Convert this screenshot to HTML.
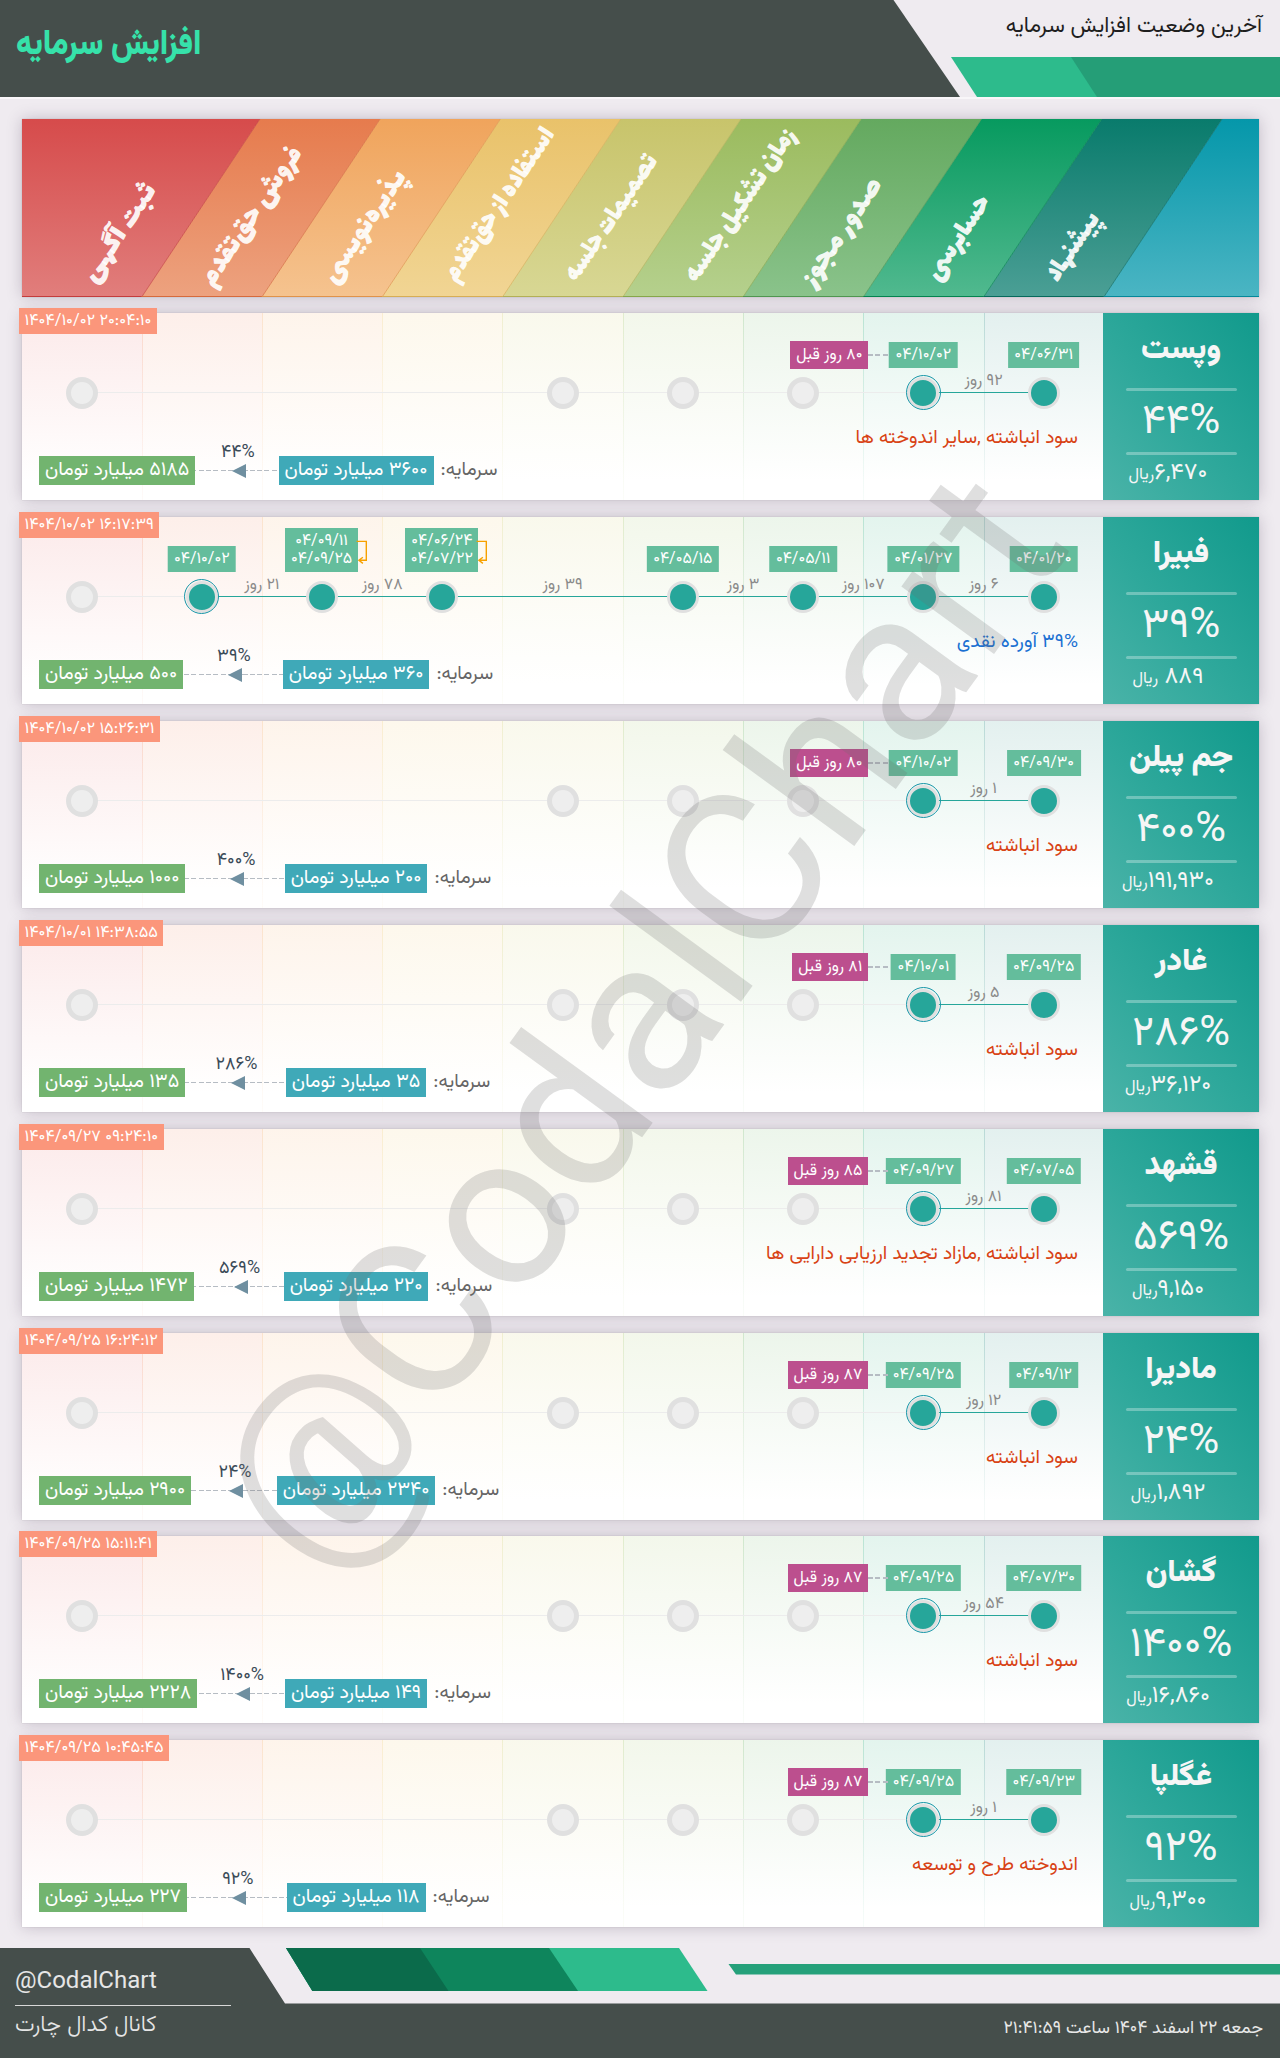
<!DOCTYPE html>
<html lang="fa"><head><meta charset="utf-8"><title>افزایش سرمایه</title>
<style>
*{margin:0;padding:0;box-sizing:border-box}
html,body{width:1280px;height:2058px;overflow:hidden}
body{position:relative;background:#efebf0;font-family:"Vazirmatn","DejaVu Sans",sans-serif;color:#333}
.ab{position:absolute}
.rtl{direction:rtl;unicode-bidi:plaintext}
.nw{white-space:nowrap}
.box{position:absolute;left:22px;width:1237px;background:#fff;box-shadow:0 0 1px rgba(0,0,0,.22),0 0 14px rgba(70,50,80,.26)}
.col{position:absolute;top:0;height:187px}
.hl{position:absolute;height:1px;background:#ececec}
.gc{position:absolute;width:32px;height:32px;border-radius:50%;background:#eeeeee;border:5.5px solid #e0e0e0}
.tc{position:absolute;width:32px;height:32px;border-radius:50%;background:#26a69a;border:3.8px solid #e0e0e0}
.cc{position:absolute;width:35px;height:35px;border-radius:50%;border:1.8px solid #1896a8}
.lbl{position:absolute;color:#fff;text-align:center;white-space:nowrap;direction:rtl}
.dl{background:#64bd9c;font-size:16px;line-height:27.6px;height:26px}
.ts{background:#fb967b;font-size:16.3px;line-height:26px;height:26px;padding:0 5.5px;direction:ltr!important}
.ago{background:#bc4f8e;font-size:16px;line-height:28px;height:28px}
.bl{font-size:19.5px;line-height:29px;height:29px;padding:0 6px}
.days{position:absolute;color:#8a8a8a;font-size:16px;white-space:nowrap;direction:rtl;text-align:center}
.rp{position:absolute;left:1103px;width:156px;height:187px;background:linear-gradient(to top right,#4ab3a8 0%,#2ea89b 45%,#119a8c 100%);color:#f6f6f6}
.dash{height:1.4px;background:repeating-linear-gradient(to right,#b6bcc3 0 5px,transparent 5px 7.3px)}
.sep{position:absolute;left:23px;width:111px;height:3px;border-radius:2px;background:rgba(255,255,255,.3)}
</style></head><body>

<svg class="ab" style="left:0;top:0" width="1280" height="100" viewBox="0 0 1280 100">
<polygon points="0,0 893.5,0 960,97 0,97" fill="#454e4b"/>
<polygon points="951,57 1280,57 1280,97 977,97" fill="#2dbb8c"/>
<polygon points="1071,57 1280,57 1280,97 1097,97" fill="#259e77"/>
</svg>
<div class="ab" style="left:0;top:97px;width:1280px;height:1.5px;background:#f9f6f9"></div>
<div class="ab rtl nw" style="left:16px;top:21px;font-size:35px;font-weight:900;color:#36e2aa;line-height:50px;transform-origin:0 50%;transform:scaleX(.885)">افزایش سرمایه</div>
<div class="ab rtl nw" style="right:18px;top:10px;font-size:21.7px;color:#1e1e1e;line-height:34px">آخرین وضعیت افزایش سرمایه</div>

<div class="box" style="top:119px;height:178px;overflow:hidden;background:none"></div>
<svg class="ab" style="left:22px;top:119px" width="1237" height="178" viewBox="22 119 1237 178"><defs><linearGradient id="g0" x1="0" y1="0" x2="0" y2="1"><stop offset="0" stop-color="#d64b4b"/><stop offset="1" stop-color="#e17e7c"/></linearGradient><linearGradient id="g1" x1="0" y1="0" x2="0" y2="1"><stop offset="0" stop-color="#e67b4d"/><stop offset="1" stop-color="#eda27f"/></linearGradient><linearGradient id="g2" x1="0" y1="0" x2="0" y2="1"><stop offset="0" stop-color="#f0a45c"/><stop offset="1" stop-color="#f5c38f"/></linearGradient><linearGradient id="g3" x1="0" y1="0" x2="0" y2="1"><stop offset="0" stop-color="#e9c26a"/><stop offset="1" stop-color="#f1d594"/></linearGradient><linearGradient id="g4" x1="0" y1="0" x2="0" y2="1"><stop offset="0" stop-color="#c8c46b"/><stop offset="1" stop-color="#d8d794"/></linearGradient><linearGradient id="g5" x1="0" y1="0" x2="0" y2="1"><stop offset="0" stop-color="#9bbb5e"/><stop offset="1" stop-color="#b5d08d"/></linearGradient><linearGradient id="g6" x1="0" y1="0" x2="0" y2="1"><stop offset="0" stop-color="#64a95f"/><stop offset="1" stop-color="#8ac38b"/></linearGradient><linearGradient id="g7" x1="0" y1="0" x2="0" y2="1"><stop offset="0" stop-color="#079a5f"/><stop offset="1" stop-color="#51b98f"/></linearGradient><linearGradient id="g8" x1="0" y1="0" x2="0" y2="1"><stop offset="0" stop-color="#097b6c"/><stop offset="1" stop-color="#4b9f95"/></linearGradient><linearGradient id="g9" x1="0" y1="0" x2="0" y2="1"><stop offset="0" stop-color="#0597aa"/><stop offset="1" stop-color="#4bb5c3"/></linearGradient></defs><polygon points="22.0,119.0 259.9,119.0 141.7,297.0 22.0,297.0" fill="url(#g0)"/><polygon points="259.9,119.0 380.1,119.0 261.9,297.0 141.7,297.0" fill="url(#g1)"/><polygon points="380.1,119.0 500.4,119.0 382.2,297.0 261.9,297.0" fill="url(#g2)"/><polygon points="500.4,119.0 620.7,119.0 502.5,297.0 382.2,297.0" fill="url(#g3)"/><polygon points="620.7,119.0 741.0,119.0 622.8,297.0 502.5,297.0" fill="url(#g4)"/><polygon points="741.0,119.0 861.2,119.0 743.0,297.0 622.8,297.0" fill="url(#g5)"/><polygon points="861.2,119.0 981.5,119.0 863.3,297.0 743.0,297.0" fill="url(#g6)"/><polygon points="981.5,119.0 1101.8,119.0 983.6,297.0 863.3,297.0" fill="url(#g7)"/><polygon points="1101.8,119.0 1222.0,119.0 1103.8,297.0 983.6,297.0" fill="url(#g8)"/><polygon points="1222.0,119.0 1259.0,119.0 1259.0,297.0 1103.8,297.0" fill="url(#g9)"/><line x1="259.9" y1="119" x2="141.7" y2="297" stroke="#c43c3c" stroke-width="1" stroke-opacity=".7"/><line x1="380.1" y1="119" x2="261.9" y2="297" stroke="#d66a3c" stroke-width="1" stroke-opacity=".7"/><line x1="500.4" y1="119" x2="382.2" y2="297" stroke="#e0934a" stroke-width="1" stroke-opacity=".7"/><line x1="620.7" y1="119" x2="502.5" y2="297" stroke="#d7ae55" stroke-width="1" stroke-opacity=".7"/><line x1="741.0" y1="119" x2="622.8" y2="297" stroke="#b3b056" stroke-width="1" stroke-opacity=".7"/><line x1="861.2" y1="119" x2="743.0" y2="297" stroke="#86a74a" stroke-width="1" stroke-opacity=".7"/><line x1="981.5" y1="119" x2="863.3" y2="297" stroke="#4f9650" stroke-width="1" stroke-opacity=".7"/><line x1="1101.8" y1="119" x2="983.6" y2="297" stroke="#02844f" stroke-width="1" stroke-opacity=".7"/><line x1="1222.0" y1="119" x2="1103.8" y2="297" stroke="#056a5c" stroke-width="1" stroke-opacity=".7"/><line x1="22.0" y1="296.5" x2="141.7" y2="296.5" stroke="#c43c3c" stroke-width="1"/><line x1="141.7" y1="296.5" x2="261.9" y2="296.5" stroke="#d66a3c" stroke-width="1"/><line x1="261.9" y1="296.5" x2="382.2" y2="296.5" stroke="#e0934a" stroke-width="1"/><line x1="382.2" y1="296.5" x2="502.5" y2="296.5" stroke="#d7ae55" stroke-width="1"/><line x1="502.5" y1="296.5" x2="622.8" y2="296.5" stroke="#b3b056" stroke-width="1"/><line x1="622.8" y1="296.5" x2="743.0" y2="296.5" stroke="#86a74a" stroke-width="1"/><line x1="743.0" y1="296.5" x2="863.3" y2="296.5" stroke="#4f9650" stroke-width="1"/><line x1="863.3" y1="296.5" x2="983.6" y2="296.5" stroke="#02844f" stroke-width="1"/><line x1="983.6" y1="296.5" x2="1103.8" y2="296.5" stroke="#056a5c" stroke-width="1"/><line x1="1103.8" y1="296.5" x2="1259.0" y2="296.5" stroke="#04889a" stroke-width="1"/></svg>
<div class="ab" style="left:22px;top:119px;width:1237px;height:178px;overflow:hidden">
<div class="ab rtl nw" style="left:81.3px;top:136.9px;height:34px;line-height:34px;font-family:Lalezar,'Vazirmatn','DejaVu Sans',sans-serif;font-size:31px;color:rgba(255,255,255,.93);transform-origin:0 100%;transform:rotate(-56deg) scaleX(1.1)">ثبت آگهی</div>
<div class="ab rtl nw" style="left:199.1px;top:140.6px;height:34px;line-height:34px;font-family:Lalezar,'Vazirmatn','DejaVu Sans',sans-serif;font-size:31px;color:rgba(255,255,255,.93);transform-origin:0 100%;transform:rotate(-56deg) scaleX(1.015)">فروش حق‌تقدم</div>
<div class="ab rtl nw" style="left:321.1px;top:138.0px;height:34px;line-height:34px;font-family:Lalezar,'Vazirmatn','DejaVu Sans',sans-serif;font-size:31px;color:rgba(255,255,255,.93);transform-origin:0 100%;transform:rotate(-56deg) scaleX(1.026)">پذیره‌نویسی</div>
<div class="ab rtl nw" style="left:442.4px;top:136.4px;height:34px;line-height:34px;font-family:Lalezar,'Vazirmatn','DejaVu Sans',sans-serif;font-size:31px;color:rgba(255,255,255,.93);transform-origin:0 100%;transform:rotate(-56deg) scaleX(0.88)">استفاده از حق‌تقدم</div>
<div class="ab rtl nw" style="left:562.9px;top:136.0px;height:34px;line-height:34px;font-family:Lalezar,'Vazirmatn','DejaVu Sans',sans-serif;font-size:31px;color:rgba(255,255,255,.93);transform-origin:0 100%;transform:rotate(-56deg) scaleX(0.85)">تصمیمات جلسه</div>
<div class="ab rtl nw" style="left:682.5px;top:137.0px;height:34px;line-height:34px;font-family:Lalezar,'Vazirmatn','DejaVu Sans',sans-serif;font-size:31px;color:rgba(255,255,255,.93);transform-origin:0 100%;transform:rotate(-56deg) scaleX(0.9)">زمان تشکیل جلسه</div>
<div class="ab rtl nw" style="left:800.4px;top:140.7px;height:34px;line-height:34px;font-family:Lalezar,'Vazirmatn','DejaVu Sans',sans-serif;font-size:31px;color:rgba(255,255,255,.93);transform-origin:0 100%;transform:rotate(-56deg) scaleX(1.067)">صدور مجوز</div>
<div class="ab rtl nw" style="left:924.3px;top:135.2px;height:34px;line-height:34px;font-family:Lalezar,'Vazirmatn','DejaVu Sans',sans-serif;font-size:31px;color:rgba(255,255,255,.93);transform-origin:0 100%;transform:rotate(-56deg) scaleX(0.94)">حسابرسی</div>
<div class="ab rtl nw" style="left:1044.0px;top:136.0px;height:34px;line-height:34px;font-family:Lalezar,'Vazirmatn','DejaVu Sans',sans-serif;font-size:31px;color:rgba(255,255,255,.93);transform-origin:0 100%;transform:rotate(-56deg) scaleX(0.885)">پیشنهاد</div>
</div>
<div class="box" style="top:313px;height:187px">
<div class="col" style="left:0px;width:120px;background:linear-gradient(to bottom,rgba(230,90,90,.13),rgba(230,90,90,0) 90%)"></div>
<div class="col" style="left:120px;width:120px;background:linear-gradient(to bottom,rgba(240,130,90,.13),rgba(240,130,90,0) 90%)"></div>
<div class="col" style="left:120px;width:1px;background:linear-gradient(to bottom,rgba(240,130,90,.22),rgba(240,130,90,.04))"></div>
<div class="col" style="left:240px;width:120px;background:linear-gradient(to bottom,rgba(245,170,100,.13),rgba(245,170,100,0) 90%)"></div>
<div class="col" style="left:240px;width:1px;background:linear-gradient(to bottom,rgba(245,170,100,.22),rgba(245,170,100,.04))"></div>
<div class="col" style="left:360px;width:120px;background:linear-gradient(to bottom,rgba(240,200,110,.13),rgba(240,200,110,0) 90%)"></div>
<div class="col" style="left:360px;width:1px;background:linear-gradient(to bottom,rgba(240,200,110,.22),rgba(240,200,110,.04))"></div>
<div class="col" style="left:480px;width:121px;background:linear-gradient(to bottom,rgba(210,205,110,.13),rgba(210,205,110,0) 90%)"></div>
<div class="col" style="left:480px;width:1px;background:linear-gradient(to bottom,rgba(210,205,110,.22),rgba(210,205,110,.04))"></div>
<div class="col" style="left:601px;width:120px;background:linear-gradient(to bottom,rgba(160,195,100,.13),rgba(160,195,100,0) 90%)"></div>
<div class="col" style="left:601px;width:1px;background:linear-gradient(to bottom,rgba(160,195,100,.22),rgba(160,195,100,.04))"></div>
<div class="col" style="left:721px;width:120px;background:linear-gradient(to bottom,rgba(110,180,100,.13),rgba(110,180,100,0) 90%)"></div>
<div class="col" style="left:721px;width:1px;background:linear-gradient(to bottom,rgba(110,180,100,.22),rgba(110,180,100,.04))"></div>
<div class="col" style="left:841px;width:121px;background:linear-gradient(to bottom,rgba(40,170,120,.13),rgba(40,170,120,0) 90%)"></div>
<div class="col" style="left:841px;width:1px;background:linear-gradient(to bottom,rgba(40,170,120,.22),rgba(40,170,120,.04))"></div>
<div class="col" style="left:962px;width:119px;background:linear-gradient(to bottom,rgba(40,140,130,.13),rgba(40,140,130,0) 90%)"></div>
<div class="col" style="left:962px;width:1px;background:linear-gradient(to bottom,rgba(40,140,130,.22),rgba(40,140,130,.04))"></div>
<div class="hl" style="left:59.5px;width:962.2px;top:79px"></div>
<div class="ab" style="left:901.4px;width:120.3px;top:78.7px;height:1.7px;background:#26a69a"></div>
<div class="gc" style="left:43.5px;top:63.5px"></div>
<div class="gc" style="left:524.6px;top:63.5px"></div>
<div class="gc" style="left:644.9px;top:63.5px"></div>
<div class="gc" style="left:765.2px;top:63.5px"></div>
<div class="tc" style="left:1005.7px;top:63.5px"></div>
<div class="tc" style="left:885.4px;top:63.5px"></div>
<div class="cc" style="left:883.9px;top:62.0px"></div>
<div class="lbl dl" style="left:1021.7px;transform:translateX(-50%);padding:0 6.5px;top:29px">۰۴/۰۶/۳۱</div>
<div class="lbl dl" style="left:901.4px;transform:translateX(-50%);padding:0 6.5px;top:29px">۰۴/۱۰/۰۲</div>
<div class="days" style="left:921.6px;width:80px;top:59px;line-height:20px">۹۲ روز</div>
<div class="ab dash" style="left:846.4px;width:21px;top:41.3px"></div>
<div class="lbl ago" style="right:390.6px;padding:0 6px;top:28px;line-height:29px">۸۰ روز قبل</div>
<div class="ab rtl nw" style="right:181.0px;top:110.5px;font-size:19.2px;line-height:28px;color:#d84315">سود انباشته ,سایر اندوخته ها</div>
<div class="ab dash" style="left:38px;width:240px;top:157px"></div>
<div class="ab" style="left:209.9px;top:151px;width:0;height:0;border-top:7px solid transparent;border-bottom:7px solid transparent;border-right:14px solid #6f8fa0"></div>
<div class="ab nw" style="left:175.9px;width:80px;text-align:center;top:126px;font-size:18px;line-height:28px;color:#3a4a57;direction:ltr">۴۴%</div>
<div class="ab nw" style="left:17px;top:143px"><span class="bl" style="background:#72b46f;color:#fff;display:inline-block;direction:rtl">۵۱۸۵ میلیارد تومان</span></div>
<div class="ab nw" style="left:216px;width:300px;top:143px;display:flex;justify-content:center;align-items:center;direction:rtl"><span style="font-size:19px;line-height:28px;color:#666;margin-left:7px">سرمایه:</span><span class="bl" style="background:#3fa9b8;color:#fff;display:inline-block">۳۶۰۰ میلیارد تومان</span></div>
</div>
<div class="lbl ts" style="left:19px;top:308px">۱۴۰۴/۱۰/۰۲ ۲۰:۰۴:۱۰</div>
<div class="rp" style="top:313px"><div class="ab rtl nw" style="left:0;width:156px;text-align:center;top:15.5px;font-size:31px;font-weight:900;line-height:44px">وپست</div><div class="sep" style="top:75px"></div><div class="ab rtl nw" style="left:0;width:156px;text-align:center;top:86px;font-size:42px;font-weight:400;line-height:48px">۴۴%</div><div class="sep" style="top:139px"></div><div class="ab rtl nw" style="left:0;width:130px;text-align:center;top:146px;font-size:23.5px;line-height:30px">۶,۴۷۰<span style="font-size:16.5px">ریال</span></div></div>
<div class="box" style="top:517px;height:187px">
<div class="col" style="left:0px;width:120px;background:linear-gradient(to bottom,rgba(230,90,90,.13),rgba(230,90,90,0) 90%)"></div>
<div class="col" style="left:120px;width:120px;background:linear-gradient(to bottom,rgba(240,130,90,.13),rgba(240,130,90,0) 90%)"></div>
<div class="col" style="left:120px;width:1px;background:linear-gradient(to bottom,rgba(240,130,90,.22),rgba(240,130,90,.04))"></div>
<div class="col" style="left:240px;width:120px;background:linear-gradient(to bottom,rgba(245,170,100,.13),rgba(245,170,100,0) 90%)"></div>
<div class="col" style="left:240px;width:1px;background:linear-gradient(to bottom,rgba(245,170,100,.22),rgba(245,170,100,.04))"></div>
<div class="col" style="left:360px;width:120px;background:linear-gradient(to bottom,rgba(240,200,110,.13),rgba(240,200,110,0) 90%)"></div>
<div class="col" style="left:360px;width:1px;background:linear-gradient(to bottom,rgba(240,200,110,.22),rgba(240,200,110,.04))"></div>
<div class="col" style="left:480px;width:121px;background:linear-gradient(to bottom,rgba(210,205,110,.13),rgba(210,205,110,0) 90%)"></div>
<div class="col" style="left:480px;width:1px;background:linear-gradient(to bottom,rgba(210,205,110,.22),rgba(210,205,110,.04))"></div>
<div class="col" style="left:601px;width:120px;background:linear-gradient(to bottom,rgba(160,195,100,.13),rgba(160,195,100,0) 90%)"></div>
<div class="col" style="left:601px;width:1px;background:linear-gradient(to bottom,rgba(160,195,100,.22),rgba(160,195,100,.04))"></div>
<div class="col" style="left:721px;width:120px;background:linear-gradient(to bottom,rgba(110,180,100,.13),rgba(110,180,100,0) 90%)"></div>
<div class="col" style="left:721px;width:1px;background:linear-gradient(to bottom,rgba(110,180,100,.22),rgba(110,180,100,.04))"></div>
<div class="col" style="left:841px;width:121px;background:linear-gradient(to bottom,rgba(40,170,120,.13),rgba(40,170,120,0) 90%)"></div>
<div class="col" style="left:841px;width:1px;background:linear-gradient(to bottom,rgba(40,170,120,.22),rgba(40,170,120,.04))"></div>
<div class="col" style="left:962px;width:119px;background:linear-gradient(to bottom,rgba(40,140,130,.13),rgba(40,140,130,0) 90%)"></div>
<div class="col" style="left:962px;width:1px;background:linear-gradient(to bottom,rgba(40,140,130,.22),rgba(40,140,130,.04))"></div>
<div class="hl" style="left:59.5px;width:962.2px;top:79px"></div>
<div class="ab" style="left:179.8px;width:841.9px;top:78.7px;height:1.7px;background:#26a69a"></div>
<div class="gc" style="left:43.5px;top:63.5px"></div>
<div class="tc" style="left:1005.7px;top:63.5px"></div>
<div class="tc" style="left:885.4px;top:63.5px"></div>
<div class="tc" style="left:765.2px;top:63.5px"></div>
<div class="tc" style="left:644.9px;top:63.5px"></div>
<div class="tc" style="left:404.3px;top:63.5px"></div>
<div class="tc" style="left:284.1px;top:63.5px"></div>
<div class="tc" style="left:163.8px;top:63.5px"></div>
<div class="cc" style="left:162.3px;top:62.0px"></div>
<div class="lbl dl" style="left:1021.7px;transform:translateX(-50%);padding:0 6.5px;top:29px">۰۴/۰۱/۲۰</div>
<div class="lbl dl" style="left:901.4px;transform:translateX(-50%);padding:0 6.5px;top:29px">۰۴/۰۱/۲۷</div>
<div class="lbl dl" style="left:781.2px;transform:translateX(-50%);padding:0 6.5px;top:29px">۰۴/۰۵/۱۱</div>
<div class="lbl dl" style="left:660.9px;transform:translateX(-50%);padding:0 6.5px;top:29px">۰۴/۰۵/۱۵</div>
<div class="lbl dl" style="left:383.3px;width:73px;top:11px;height:44px;line-height:18px;padding-top:5px">۰۴/۰۶/۲۴<br>۰۴/۰۷/۲۲</div>
<svg class="ab" style="left:451.8px;top:20px" width="16" height="30" viewBox="0 0 16 30"><path d="M2.6 4.4 H12.3 V23.3 H4.9 M8.9 20.2 L4.9 23.3 L8.9 26.4" fill="none" stroke="#f7a100" stroke-width="1.4"/></svg>
<div class="lbl dl" style="left:263.1px;width:73px;top:11px;height:44px;line-height:18px;padding-top:5px">۰۴/۰۹/۱۱<br>۰۴/۰۹/۲۵</div>
<svg class="ab" style="left:331.6px;top:20px" width="16" height="30" viewBox="0 0 16 30"><path d="M2.6 4.4 H12.3 V23.3 H4.9 M8.9 20.2 L4.9 23.3 L8.9 26.4" fill="none" stroke="#f7a100" stroke-width="1.4"/></svg>
<div class="lbl dl" style="left:179.8px;transform:translateX(-50%);padding:0 6.5px;top:29px">۰۴/۱۰/۰۲</div>
<div class="days" style="left:921.6px;width:80px;top:59px;line-height:20px">۶ روز</div>
<div class="days" style="left:801.3px;width:80px;top:59px;line-height:20px">۱۰۷ روز</div>
<div class="days" style="left:681.0px;width:80px;top:59px;line-height:20px">۳ روز</div>
<div class="days" style="left:500.6px;width:80px;top:59px;line-height:20px">۳۹ روز</div>
<div class="days" style="left:320.2px;width:80px;top:59px;line-height:20px">۷۸ روز</div>
<div class="days" style="left:199.9px;width:80px;top:59px;line-height:20px">۲۱ روز</div>
<div class="ab rtl nw" style="right:181.0px;top:110.5px;font-size:19.2px;line-height:28px;color:#1a70d2">۳۹% آورده نقدی</div>
<div class="ab dash" style="left:38px;width:240px;top:157px"></div>
<div class="ab" style="left:205.9px;top:151px;width:0;height:0;border-top:7px solid transparent;border-bottom:7px solid transparent;border-right:14px solid #6f8fa0"></div>
<div class="ab nw" style="left:171.9px;width:80px;text-align:center;top:126px;font-size:18px;line-height:28px;color:#3a4a57;direction:ltr">۳۹%</div>
<div class="ab nw" style="left:17px;top:143px"><span class="bl" style="background:#72b46f;color:#fff;display:inline-block;direction:rtl">۵۰۰ میلیارد تومان</span></div>
<div class="ab nw" style="left:216px;width:300px;top:143px;display:flex;justify-content:center;align-items:center;direction:rtl"><span style="font-size:19px;line-height:28px;color:#666;margin-left:7px">سرمایه:</span><span class="bl" style="background:#3fa9b8;color:#fff;display:inline-block">۳۶۰ میلیارد تومان</span></div>
</div>
<div class="lbl ts" style="left:19px;top:512px">۱۴۰۴/۱۰/۰۲ ۱۶:۱۷:۳۹</div>
<div class="rp" style="top:517px"><div class="ab rtl nw" style="left:0;width:156px;text-align:center;top:15.5px;font-size:31px;font-weight:900;line-height:44px">فبیرا</div><div class="sep" style="top:75px"></div><div class="ab rtl nw" style="left:0;width:156px;text-align:center;top:86px;font-size:42px;font-weight:400;line-height:48px">۳۹%</div><div class="sep" style="top:139px"></div><div class="ab rtl nw" style="left:0;width:130px;text-align:center;top:146px;font-size:23.5px;line-height:30px">۸۸۹ <span style="font-size:16.5px">ریال</span></div></div>
<div class="box" style="top:721px;height:187px">
<div class="col" style="left:0px;width:120px;background:linear-gradient(to bottom,rgba(230,90,90,.13),rgba(230,90,90,0) 90%)"></div>
<div class="col" style="left:120px;width:120px;background:linear-gradient(to bottom,rgba(240,130,90,.13),rgba(240,130,90,0) 90%)"></div>
<div class="col" style="left:120px;width:1px;background:linear-gradient(to bottom,rgba(240,130,90,.22),rgba(240,130,90,.04))"></div>
<div class="col" style="left:240px;width:120px;background:linear-gradient(to bottom,rgba(245,170,100,.13),rgba(245,170,100,0) 90%)"></div>
<div class="col" style="left:240px;width:1px;background:linear-gradient(to bottom,rgba(245,170,100,.22),rgba(245,170,100,.04))"></div>
<div class="col" style="left:360px;width:120px;background:linear-gradient(to bottom,rgba(240,200,110,.13),rgba(240,200,110,0) 90%)"></div>
<div class="col" style="left:360px;width:1px;background:linear-gradient(to bottom,rgba(240,200,110,.22),rgba(240,200,110,.04))"></div>
<div class="col" style="left:480px;width:121px;background:linear-gradient(to bottom,rgba(210,205,110,.13),rgba(210,205,110,0) 90%)"></div>
<div class="col" style="left:480px;width:1px;background:linear-gradient(to bottom,rgba(210,205,110,.22),rgba(210,205,110,.04))"></div>
<div class="col" style="left:601px;width:120px;background:linear-gradient(to bottom,rgba(160,195,100,.13),rgba(160,195,100,0) 90%)"></div>
<div class="col" style="left:601px;width:1px;background:linear-gradient(to bottom,rgba(160,195,100,.22),rgba(160,195,100,.04))"></div>
<div class="col" style="left:721px;width:120px;background:linear-gradient(to bottom,rgba(110,180,100,.13),rgba(110,180,100,0) 90%)"></div>
<div class="col" style="left:721px;width:1px;background:linear-gradient(to bottom,rgba(110,180,100,.22),rgba(110,180,100,.04))"></div>
<div class="col" style="left:841px;width:121px;background:linear-gradient(to bottom,rgba(40,170,120,.13),rgba(40,170,120,0) 90%)"></div>
<div class="col" style="left:841px;width:1px;background:linear-gradient(to bottom,rgba(40,170,120,.22),rgba(40,170,120,.04))"></div>
<div class="col" style="left:962px;width:119px;background:linear-gradient(to bottom,rgba(40,140,130,.13),rgba(40,140,130,0) 90%)"></div>
<div class="col" style="left:962px;width:1px;background:linear-gradient(to bottom,rgba(40,140,130,.22),rgba(40,140,130,.04))"></div>
<div class="hl" style="left:59.5px;width:962.2px;top:79px"></div>
<div class="ab" style="left:901.4px;width:120.3px;top:78.7px;height:1.7px;background:#26a69a"></div>
<div class="gc" style="left:43.5px;top:63.5px"></div>
<div class="gc" style="left:524.6px;top:63.5px"></div>
<div class="gc" style="left:644.9px;top:63.5px"></div>
<div class="gc" style="left:765.2px;top:63.5px"></div>
<div class="tc" style="left:1005.7px;top:63.5px"></div>
<div class="tc" style="left:885.4px;top:63.5px"></div>
<div class="cc" style="left:883.9px;top:62.0px"></div>
<div class="lbl dl" style="left:1021.7px;transform:translateX(-50%);padding:0 6.5px;top:29px">۰۴/۰۹/۳۰</div>
<div class="lbl dl" style="left:901.4px;transform:translateX(-50%);padding:0 6.5px;top:29px">۰۴/۱۰/۰۲</div>
<div class="days" style="left:921.6px;width:80px;top:59px;line-height:20px">۱ روز</div>
<div class="ab dash" style="left:846.4px;width:21px;top:41.3px"></div>
<div class="lbl ago" style="right:390.6px;padding:0 6px;top:28px;line-height:29px">۸۰ روز قبل</div>
<div class="ab rtl nw" style="right:181.0px;top:110.5px;font-size:19.2px;line-height:28px;color:#d84315">سود انباشته</div>
<div class="ab dash" style="left:38px;width:240px;top:157px"></div>
<div class="ab" style="left:208.1px;top:151px;width:0;height:0;border-top:7px solid transparent;border-bottom:7px solid transparent;border-right:14px solid #6f8fa0"></div>
<div class="ab nw" style="left:174.1px;width:80px;text-align:center;top:126px;font-size:18px;line-height:28px;color:#3a4a57;direction:ltr">۴۰۰%</div>
<div class="ab nw" style="left:17px;top:143px"><span class="bl" style="background:#72b46f;color:#fff;display:inline-block;direction:rtl">۱۰۰۰ میلیارد تومان</span></div>
<div class="ab nw" style="left:216px;width:300px;top:143px;display:flex;justify-content:center;align-items:center;direction:rtl"><span style="font-size:19px;line-height:28px;color:#666;margin-left:7px">سرمایه:</span><span class="bl" style="background:#3fa9b8;color:#fff;display:inline-block">۲۰۰ میلیارد تومان</span></div>
</div>
<div class="lbl ts" style="left:19px;top:716px">۱۴۰۴/۱۰/۰۲ ۱۵:۲۶:۳۱</div>
<div class="rp" style="top:721px"><div class="ab rtl nw" style="left:0;width:156px;text-align:center;top:15.5px;font-size:31px;font-weight:900;line-height:44px">جم پیلن</div><div class="sep" style="top:75px"></div><div class="ab rtl nw" style="left:0;width:156px;text-align:center;top:86px;font-size:42px;font-weight:400;line-height:48px">۴۰۰%</div><div class="sep" style="top:139px"></div><div class="ab rtl nw" style="left:0;width:130px;text-align:center;top:146px;font-size:23.5px;line-height:30px">۱۹۱,۹۳۰<span style="font-size:16.5px">ریال</span></div></div>
<div class="box" style="top:925px;height:187px">
<div class="col" style="left:0px;width:120px;background:linear-gradient(to bottom,rgba(230,90,90,.13),rgba(230,90,90,0) 90%)"></div>
<div class="col" style="left:120px;width:120px;background:linear-gradient(to bottom,rgba(240,130,90,.13),rgba(240,130,90,0) 90%)"></div>
<div class="col" style="left:120px;width:1px;background:linear-gradient(to bottom,rgba(240,130,90,.22),rgba(240,130,90,.04))"></div>
<div class="col" style="left:240px;width:120px;background:linear-gradient(to bottom,rgba(245,170,100,.13),rgba(245,170,100,0) 90%)"></div>
<div class="col" style="left:240px;width:1px;background:linear-gradient(to bottom,rgba(245,170,100,.22),rgba(245,170,100,.04))"></div>
<div class="col" style="left:360px;width:120px;background:linear-gradient(to bottom,rgba(240,200,110,.13),rgba(240,200,110,0) 90%)"></div>
<div class="col" style="left:360px;width:1px;background:linear-gradient(to bottom,rgba(240,200,110,.22),rgba(240,200,110,.04))"></div>
<div class="col" style="left:480px;width:121px;background:linear-gradient(to bottom,rgba(210,205,110,.13),rgba(210,205,110,0) 90%)"></div>
<div class="col" style="left:480px;width:1px;background:linear-gradient(to bottom,rgba(210,205,110,.22),rgba(210,205,110,.04))"></div>
<div class="col" style="left:601px;width:120px;background:linear-gradient(to bottom,rgba(160,195,100,.13),rgba(160,195,100,0) 90%)"></div>
<div class="col" style="left:601px;width:1px;background:linear-gradient(to bottom,rgba(160,195,100,.22),rgba(160,195,100,.04))"></div>
<div class="col" style="left:721px;width:120px;background:linear-gradient(to bottom,rgba(110,180,100,.13),rgba(110,180,100,0) 90%)"></div>
<div class="col" style="left:721px;width:1px;background:linear-gradient(to bottom,rgba(110,180,100,.22),rgba(110,180,100,.04))"></div>
<div class="col" style="left:841px;width:121px;background:linear-gradient(to bottom,rgba(40,170,120,.13),rgba(40,170,120,0) 90%)"></div>
<div class="col" style="left:841px;width:1px;background:linear-gradient(to bottom,rgba(40,170,120,.22),rgba(40,170,120,.04))"></div>
<div class="col" style="left:962px;width:119px;background:linear-gradient(to bottom,rgba(40,140,130,.13),rgba(40,140,130,0) 90%)"></div>
<div class="col" style="left:962px;width:1px;background:linear-gradient(to bottom,rgba(40,140,130,.22),rgba(40,140,130,.04))"></div>
<div class="hl" style="left:59.5px;width:962.2px;top:79px"></div>
<div class="ab" style="left:901.4px;width:120.3px;top:78.7px;height:1.7px;background:#26a69a"></div>
<div class="gc" style="left:43.5px;top:63.5px"></div>
<div class="gc" style="left:524.6px;top:63.5px"></div>
<div class="gc" style="left:644.9px;top:63.5px"></div>
<div class="gc" style="left:765.2px;top:63.5px"></div>
<div class="tc" style="left:1005.7px;top:63.5px"></div>
<div class="tc" style="left:885.4px;top:63.5px"></div>
<div class="cc" style="left:883.9px;top:62.0px"></div>
<div class="lbl dl" style="left:1021.7px;transform:translateX(-50%);padding:0 6.5px;top:29px">۰۴/۰۹/۲۵</div>
<div class="lbl dl" style="left:901.4px;transform:translateX(-50%);padding:0 6.5px;top:29px">۰۴/۱۰/۰۱</div>
<div class="days" style="left:921.6px;width:80px;top:59px;line-height:20px">۵ روز</div>
<div class="ab dash" style="left:846.4px;width:21px;top:41.3px"></div>
<div class="lbl ago" style="right:390.6px;padding:0 6px;top:28px;line-height:29px">۸۱ روز قبل</div>
<div class="ab rtl nw" style="right:181.0px;top:110.5px;font-size:19.2px;line-height:28px;color:#d84315">سود انباشته</div>
<div class="ab dash" style="left:38px;width:240px;top:157px"></div>
<div class="ab" style="left:208.5px;top:151px;width:0;height:0;border-top:7px solid transparent;border-bottom:7px solid transparent;border-right:14px solid #6f8fa0"></div>
<div class="ab nw" style="left:174.5px;width:80px;text-align:center;top:126px;font-size:18px;line-height:28px;color:#3a4a57;direction:ltr">۲۸۶%</div>
<div class="ab nw" style="left:17px;top:143px"><span class="bl" style="background:#72b46f;color:#fff;display:inline-block;direction:rtl">۱۳۵ میلیارد تومان</span></div>
<div class="ab nw" style="left:216px;width:300px;top:143px;display:flex;justify-content:center;align-items:center;direction:rtl"><span style="font-size:19px;line-height:28px;color:#666;margin-left:7px">سرمایه:</span><span class="bl" style="background:#3fa9b8;color:#fff;display:inline-block">۳۵ میلیارد تومان</span></div>
</div>
<div class="lbl ts" style="left:19px;top:920px">۱۴۰۴/۱۰/۰۱ ۱۴:۳۸:۵۵</div>
<div class="rp" style="top:925px"><div class="ab rtl nw" style="left:0;width:156px;text-align:center;top:15.5px;font-size:31px;font-weight:900;line-height:44px">غادر</div><div class="sep" style="top:75px"></div><div class="ab rtl nw" style="left:0;width:156px;text-align:center;top:86px;font-size:42px;font-weight:400;line-height:48px">۲۸۶%</div><div class="sep" style="top:139px"></div><div class="ab rtl nw" style="left:0;width:130px;text-align:center;top:146px;font-size:23.5px;line-height:30px">۳۶,۱۲۰<span style="font-size:16.5px">ریال</span></div></div>
<div class="box" style="top:1129px;height:187px">
<div class="col" style="left:0px;width:120px;background:linear-gradient(to bottom,rgba(230,90,90,.13),rgba(230,90,90,0) 90%)"></div>
<div class="col" style="left:120px;width:120px;background:linear-gradient(to bottom,rgba(240,130,90,.13),rgba(240,130,90,0) 90%)"></div>
<div class="col" style="left:120px;width:1px;background:linear-gradient(to bottom,rgba(240,130,90,.22),rgba(240,130,90,.04))"></div>
<div class="col" style="left:240px;width:120px;background:linear-gradient(to bottom,rgba(245,170,100,.13),rgba(245,170,100,0) 90%)"></div>
<div class="col" style="left:240px;width:1px;background:linear-gradient(to bottom,rgba(245,170,100,.22),rgba(245,170,100,.04))"></div>
<div class="col" style="left:360px;width:120px;background:linear-gradient(to bottom,rgba(240,200,110,.13),rgba(240,200,110,0) 90%)"></div>
<div class="col" style="left:360px;width:1px;background:linear-gradient(to bottom,rgba(240,200,110,.22),rgba(240,200,110,.04))"></div>
<div class="col" style="left:480px;width:121px;background:linear-gradient(to bottom,rgba(210,205,110,.13),rgba(210,205,110,0) 90%)"></div>
<div class="col" style="left:480px;width:1px;background:linear-gradient(to bottom,rgba(210,205,110,.22),rgba(210,205,110,.04))"></div>
<div class="col" style="left:601px;width:120px;background:linear-gradient(to bottom,rgba(160,195,100,.13),rgba(160,195,100,0) 90%)"></div>
<div class="col" style="left:601px;width:1px;background:linear-gradient(to bottom,rgba(160,195,100,.22),rgba(160,195,100,.04))"></div>
<div class="col" style="left:721px;width:120px;background:linear-gradient(to bottom,rgba(110,180,100,.13),rgba(110,180,100,0) 90%)"></div>
<div class="col" style="left:721px;width:1px;background:linear-gradient(to bottom,rgba(110,180,100,.22),rgba(110,180,100,.04))"></div>
<div class="col" style="left:841px;width:121px;background:linear-gradient(to bottom,rgba(40,170,120,.13),rgba(40,170,120,0) 90%)"></div>
<div class="col" style="left:841px;width:1px;background:linear-gradient(to bottom,rgba(40,170,120,.22),rgba(40,170,120,.04))"></div>
<div class="col" style="left:962px;width:119px;background:linear-gradient(to bottom,rgba(40,140,130,.13),rgba(40,140,130,0) 90%)"></div>
<div class="col" style="left:962px;width:1px;background:linear-gradient(to bottom,rgba(40,140,130,.22),rgba(40,140,130,.04))"></div>
<div class="hl" style="left:59.5px;width:962.2px;top:79px"></div>
<div class="ab" style="left:901.4px;width:120.3px;top:78.7px;height:1.7px;background:#26a69a"></div>
<div class="gc" style="left:43.5px;top:63.5px"></div>
<div class="gc" style="left:524.6px;top:63.5px"></div>
<div class="gc" style="left:644.9px;top:63.5px"></div>
<div class="gc" style="left:765.2px;top:63.5px"></div>
<div class="tc" style="left:1005.7px;top:63.5px"></div>
<div class="tc" style="left:885.4px;top:63.5px"></div>
<div class="cc" style="left:883.9px;top:62.0px"></div>
<div class="lbl dl" style="left:1021.7px;transform:translateX(-50%);padding:0 6.5px;top:29px">۰۴/۰۷/۰۵</div>
<div class="lbl dl" style="left:901.4px;transform:translateX(-50%);padding:0 6.5px;top:29px">۰۴/۰۹/۲۷</div>
<div class="days" style="left:921.6px;width:80px;top:59px;line-height:20px">۸۱ روز</div>
<div class="ab dash" style="left:846.4px;width:21px;top:41.3px"></div>
<div class="lbl ago" style="right:390.6px;padding:0 6px;top:28px;line-height:29px">۸۵ روز قبل</div>
<div class="ab rtl nw" style="right:181.0px;top:110.5px;font-size:19.2px;line-height:28px;color:#d84315">سود انباشته ,مازاد تجدید ارزیابی دارایی ها</div>
<div class="ab dash" style="left:38px;width:240px;top:157px"></div>
<div class="ab" style="left:211.6px;top:151px;width:0;height:0;border-top:7px solid transparent;border-bottom:7px solid transparent;border-right:14px solid #6f8fa0"></div>
<div class="ab nw" style="left:177.6px;width:80px;text-align:center;top:126px;font-size:18px;line-height:28px;color:#3a4a57;direction:ltr">۵۶۹%</div>
<div class="ab nw" style="left:17px;top:143px"><span class="bl" style="background:#72b46f;color:#fff;display:inline-block;direction:rtl">۱۴۷۲ میلیارد تومان</span></div>
<div class="ab nw" style="left:216px;width:300px;top:143px;display:flex;justify-content:center;align-items:center;direction:rtl"><span style="font-size:19px;line-height:28px;color:#666;margin-left:7px">سرمایه:</span><span class="bl" style="background:#3fa9b8;color:#fff;display:inline-block">۲۲۰ میلیارد تومان</span></div>
</div>
<div class="lbl ts" style="left:19px;top:1124px">۱۴۰۴/۰۹/۲۷ ۰۹:۲۴:۱۰</div>
<div class="rp" style="top:1129px"><div class="ab rtl nw" style="left:0;width:156px;text-align:center;top:15.5px;font-size:31px;font-weight:900;line-height:44px">قشهد</div><div class="sep" style="top:75px"></div><div class="ab rtl nw" style="left:0;width:156px;text-align:center;top:86px;font-size:42px;font-weight:400;line-height:48px">۵۶۹%</div><div class="sep" style="top:139px"></div><div class="ab rtl nw" style="left:0;width:130px;text-align:center;top:146px;font-size:23.5px;line-height:30px">۹,۱۵۰<span style="font-size:16.5px">ریال</span></div></div>
<div class="box" style="top:1333px;height:187px">
<div class="col" style="left:0px;width:120px;background:linear-gradient(to bottom,rgba(230,90,90,.13),rgba(230,90,90,0) 90%)"></div>
<div class="col" style="left:120px;width:120px;background:linear-gradient(to bottom,rgba(240,130,90,.13),rgba(240,130,90,0) 90%)"></div>
<div class="col" style="left:120px;width:1px;background:linear-gradient(to bottom,rgba(240,130,90,.22),rgba(240,130,90,.04))"></div>
<div class="col" style="left:240px;width:120px;background:linear-gradient(to bottom,rgba(245,170,100,.13),rgba(245,170,100,0) 90%)"></div>
<div class="col" style="left:240px;width:1px;background:linear-gradient(to bottom,rgba(245,170,100,.22),rgba(245,170,100,.04))"></div>
<div class="col" style="left:360px;width:120px;background:linear-gradient(to bottom,rgba(240,200,110,.13),rgba(240,200,110,0) 90%)"></div>
<div class="col" style="left:360px;width:1px;background:linear-gradient(to bottom,rgba(240,200,110,.22),rgba(240,200,110,.04))"></div>
<div class="col" style="left:480px;width:121px;background:linear-gradient(to bottom,rgba(210,205,110,.13),rgba(210,205,110,0) 90%)"></div>
<div class="col" style="left:480px;width:1px;background:linear-gradient(to bottom,rgba(210,205,110,.22),rgba(210,205,110,.04))"></div>
<div class="col" style="left:601px;width:120px;background:linear-gradient(to bottom,rgba(160,195,100,.13),rgba(160,195,100,0) 90%)"></div>
<div class="col" style="left:601px;width:1px;background:linear-gradient(to bottom,rgba(160,195,100,.22),rgba(160,195,100,.04))"></div>
<div class="col" style="left:721px;width:120px;background:linear-gradient(to bottom,rgba(110,180,100,.13),rgba(110,180,100,0) 90%)"></div>
<div class="col" style="left:721px;width:1px;background:linear-gradient(to bottom,rgba(110,180,100,.22),rgba(110,180,100,.04))"></div>
<div class="col" style="left:841px;width:121px;background:linear-gradient(to bottom,rgba(40,170,120,.13),rgba(40,170,120,0) 90%)"></div>
<div class="col" style="left:841px;width:1px;background:linear-gradient(to bottom,rgba(40,170,120,.22),rgba(40,170,120,.04))"></div>
<div class="col" style="left:962px;width:119px;background:linear-gradient(to bottom,rgba(40,140,130,.13),rgba(40,140,130,0) 90%)"></div>
<div class="col" style="left:962px;width:1px;background:linear-gradient(to bottom,rgba(40,140,130,.22),rgba(40,140,130,.04))"></div>
<div class="hl" style="left:59.5px;width:962.2px;top:79px"></div>
<div class="ab" style="left:901.4px;width:120.3px;top:78.7px;height:1.7px;background:#26a69a"></div>
<div class="gc" style="left:43.5px;top:63.5px"></div>
<div class="gc" style="left:524.6px;top:63.5px"></div>
<div class="gc" style="left:644.9px;top:63.5px"></div>
<div class="gc" style="left:765.2px;top:63.5px"></div>
<div class="tc" style="left:1005.7px;top:63.5px"></div>
<div class="tc" style="left:885.4px;top:63.5px"></div>
<div class="cc" style="left:883.9px;top:62.0px"></div>
<div class="lbl dl" style="left:1021.7px;transform:translateX(-50%);padding:0 6.5px;top:29px">۰۴/۰۹/۱۲</div>
<div class="lbl dl" style="left:901.4px;transform:translateX(-50%);padding:0 6.5px;top:29px">۰۴/۰۹/۲۵</div>
<div class="days" style="left:921.6px;width:80px;top:59px;line-height:20px">۱۲ روز</div>
<div class="ab dash" style="left:846.4px;width:21px;top:41.3px"></div>
<div class="lbl ago" style="right:390.6px;padding:0 6px;top:28px;line-height:29px">۸۷ روز قبل</div>
<div class="ab rtl nw" style="right:181.0px;top:110.5px;font-size:19.2px;line-height:28px;color:#d84315">سود انباشته</div>
<div class="ab dash" style="left:38px;width:240px;top:157px"></div>
<div class="ab" style="left:207.0px;top:151px;width:0;height:0;border-top:7px solid transparent;border-bottom:7px solid transparent;border-right:14px solid #6f8fa0"></div>
<div class="ab nw" style="left:173.0px;width:80px;text-align:center;top:126px;font-size:18px;line-height:28px;color:#3a4a57;direction:ltr">۲۴%</div>
<div class="ab nw" style="left:17px;top:143px"><span class="bl" style="background:#72b46f;color:#fff;display:inline-block;direction:rtl">۲۹۰۰ میلیارد تومان</span></div>
<div class="ab nw" style="left:216px;width:300px;top:143px;display:flex;justify-content:center;align-items:center;direction:rtl"><span style="font-size:19px;line-height:28px;color:#666;margin-left:7px">سرمایه:</span><span class="bl" style="background:#3fa9b8;color:#fff;display:inline-block">۲۳۴۰ میلیارد تومان</span></div>
</div>
<div class="lbl ts" style="left:19px;top:1328px">۱۴۰۴/۰۹/۲۵ ۱۶:۲۴:۱۲</div>
<div class="rp" style="top:1333px"><div class="ab rtl nw" style="left:0;width:156px;text-align:center;top:15.5px;font-size:31px;font-weight:900;line-height:44px">مادیرا</div><div class="sep" style="top:75px"></div><div class="ab rtl nw" style="left:0;width:156px;text-align:center;top:86px;font-size:42px;font-weight:400;line-height:48px">۲۴%</div><div class="sep" style="top:139px"></div><div class="ab rtl nw" style="left:0;width:130px;text-align:center;top:146px;font-size:23.5px;line-height:30px">۱,۸۹۲<span style="font-size:16.5px">ریال</span></div></div>
<div class="box" style="top:1536px;height:187px">
<div class="col" style="left:0px;width:120px;background:linear-gradient(to bottom,rgba(230,90,90,.13),rgba(230,90,90,0) 90%)"></div>
<div class="col" style="left:120px;width:120px;background:linear-gradient(to bottom,rgba(240,130,90,.13),rgba(240,130,90,0) 90%)"></div>
<div class="col" style="left:120px;width:1px;background:linear-gradient(to bottom,rgba(240,130,90,.22),rgba(240,130,90,.04))"></div>
<div class="col" style="left:240px;width:120px;background:linear-gradient(to bottom,rgba(245,170,100,.13),rgba(245,170,100,0) 90%)"></div>
<div class="col" style="left:240px;width:1px;background:linear-gradient(to bottom,rgba(245,170,100,.22),rgba(245,170,100,.04))"></div>
<div class="col" style="left:360px;width:120px;background:linear-gradient(to bottom,rgba(240,200,110,.13),rgba(240,200,110,0) 90%)"></div>
<div class="col" style="left:360px;width:1px;background:linear-gradient(to bottom,rgba(240,200,110,.22),rgba(240,200,110,.04))"></div>
<div class="col" style="left:480px;width:121px;background:linear-gradient(to bottom,rgba(210,205,110,.13),rgba(210,205,110,0) 90%)"></div>
<div class="col" style="left:480px;width:1px;background:linear-gradient(to bottom,rgba(210,205,110,.22),rgba(210,205,110,.04))"></div>
<div class="col" style="left:601px;width:120px;background:linear-gradient(to bottom,rgba(160,195,100,.13),rgba(160,195,100,0) 90%)"></div>
<div class="col" style="left:601px;width:1px;background:linear-gradient(to bottom,rgba(160,195,100,.22),rgba(160,195,100,.04))"></div>
<div class="col" style="left:721px;width:120px;background:linear-gradient(to bottom,rgba(110,180,100,.13),rgba(110,180,100,0) 90%)"></div>
<div class="col" style="left:721px;width:1px;background:linear-gradient(to bottom,rgba(110,180,100,.22),rgba(110,180,100,.04))"></div>
<div class="col" style="left:841px;width:121px;background:linear-gradient(to bottom,rgba(40,170,120,.13),rgba(40,170,120,0) 90%)"></div>
<div class="col" style="left:841px;width:1px;background:linear-gradient(to bottom,rgba(40,170,120,.22),rgba(40,170,120,.04))"></div>
<div class="col" style="left:962px;width:119px;background:linear-gradient(to bottom,rgba(40,140,130,.13),rgba(40,140,130,0) 90%)"></div>
<div class="col" style="left:962px;width:1px;background:linear-gradient(to bottom,rgba(40,140,130,.22),rgba(40,140,130,.04))"></div>
<div class="hl" style="left:59.5px;width:962.2px;top:79px"></div>
<div class="ab" style="left:901.4px;width:120.3px;top:78.7px;height:1.7px;background:#26a69a"></div>
<div class="gc" style="left:43.5px;top:63.5px"></div>
<div class="gc" style="left:524.6px;top:63.5px"></div>
<div class="gc" style="left:644.9px;top:63.5px"></div>
<div class="gc" style="left:765.2px;top:63.5px"></div>
<div class="tc" style="left:1005.7px;top:63.5px"></div>
<div class="tc" style="left:885.4px;top:63.5px"></div>
<div class="cc" style="left:883.9px;top:62.0px"></div>
<div class="lbl dl" style="left:1021.7px;transform:translateX(-50%);padding:0 6.5px;top:29px">۰۴/۰۷/۳۰</div>
<div class="lbl dl" style="left:901.4px;transform:translateX(-50%);padding:0 6.5px;top:29px">۰۴/۰۹/۲۵</div>
<div class="days" style="left:921.6px;width:80px;top:59px;line-height:20px">۵۴ روز</div>
<div class="ab dash" style="left:846.4px;width:21px;top:41.3px"></div>
<div class="lbl ago" style="right:390.6px;padding:0 6px;top:28px;line-height:29px">۸۷ روز قبل</div>
<div class="ab rtl nw" style="right:181.0px;top:110.5px;font-size:19.2px;line-height:28px;color:#d84315">سود انباشته</div>
<div class="ab dash" style="left:38px;width:240px;top:157px"></div>
<div class="ab" style="left:214.1px;top:151px;width:0;height:0;border-top:7px solid transparent;border-bottom:7px solid transparent;border-right:14px solid #6f8fa0"></div>
<div class="ab nw" style="left:180.1px;width:80px;text-align:center;top:126px;font-size:18px;line-height:28px;color:#3a4a57;direction:ltr">۱۴۰۰%</div>
<div class="ab nw" style="left:17px;top:143px"><span class="bl" style="background:#72b46f;color:#fff;display:inline-block;direction:rtl">۲۲۲۸ میلیارد تومان</span></div>
<div class="ab nw" style="left:216px;width:300px;top:143px;display:flex;justify-content:center;align-items:center;direction:rtl"><span style="font-size:19px;line-height:28px;color:#666;margin-left:7px">سرمایه:</span><span class="bl" style="background:#3fa9b8;color:#fff;display:inline-block">۱۴۹ میلیارد تومان</span></div>
</div>
<div class="lbl ts" style="left:19px;top:1531px">۱۴۰۴/۰۹/۲۵ ۱۵:۱۱:۴۱</div>
<div class="rp" style="top:1536px"><div class="ab rtl nw" style="left:0;width:156px;text-align:center;top:15.5px;font-size:31px;font-weight:900;line-height:44px">گشان</div><div class="sep" style="top:75px"></div><div class="ab rtl nw" style="left:0;width:156px;text-align:center;top:86px;font-size:42px;font-weight:400;line-height:48px">۱۴۰۰%</div><div class="sep" style="top:139px"></div><div class="ab rtl nw" style="left:0;width:130px;text-align:center;top:146px;font-size:23.5px;line-height:30px">۱۶,۸۶۰<span style="font-size:16.5px">ریال</span></div></div>
<div class="box" style="top:1740px;height:187px">
<div class="col" style="left:0px;width:120px;background:linear-gradient(to bottom,rgba(230,90,90,.13),rgba(230,90,90,0) 90%)"></div>
<div class="col" style="left:120px;width:120px;background:linear-gradient(to bottom,rgba(240,130,90,.13),rgba(240,130,90,0) 90%)"></div>
<div class="col" style="left:120px;width:1px;background:linear-gradient(to bottom,rgba(240,130,90,.22),rgba(240,130,90,.04))"></div>
<div class="col" style="left:240px;width:120px;background:linear-gradient(to bottom,rgba(245,170,100,.13),rgba(245,170,100,0) 90%)"></div>
<div class="col" style="left:240px;width:1px;background:linear-gradient(to bottom,rgba(245,170,100,.22),rgba(245,170,100,.04))"></div>
<div class="col" style="left:360px;width:120px;background:linear-gradient(to bottom,rgba(240,200,110,.13),rgba(240,200,110,0) 90%)"></div>
<div class="col" style="left:360px;width:1px;background:linear-gradient(to bottom,rgba(240,200,110,.22),rgba(240,200,110,.04))"></div>
<div class="col" style="left:480px;width:121px;background:linear-gradient(to bottom,rgba(210,205,110,.13),rgba(210,205,110,0) 90%)"></div>
<div class="col" style="left:480px;width:1px;background:linear-gradient(to bottom,rgba(210,205,110,.22),rgba(210,205,110,.04))"></div>
<div class="col" style="left:601px;width:120px;background:linear-gradient(to bottom,rgba(160,195,100,.13),rgba(160,195,100,0) 90%)"></div>
<div class="col" style="left:601px;width:1px;background:linear-gradient(to bottom,rgba(160,195,100,.22),rgba(160,195,100,.04))"></div>
<div class="col" style="left:721px;width:120px;background:linear-gradient(to bottom,rgba(110,180,100,.13),rgba(110,180,100,0) 90%)"></div>
<div class="col" style="left:721px;width:1px;background:linear-gradient(to bottom,rgba(110,180,100,.22),rgba(110,180,100,.04))"></div>
<div class="col" style="left:841px;width:121px;background:linear-gradient(to bottom,rgba(40,170,120,.13),rgba(40,170,120,0) 90%)"></div>
<div class="col" style="left:841px;width:1px;background:linear-gradient(to bottom,rgba(40,170,120,.22),rgba(40,170,120,.04))"></div>
<div class="col" style="left:962px;width:119px;background:linear-gradient(to bottom,rgba(40,140,130,.13),rgba(40,140,130,0) 90%)"></div>
<div class="col" style="left:962px;width:1px;background:linear-gradient(to bottom,rgba(40,140,130,.22),rgba(40,140,130,.04))"></div>
<div class="hl" style="left:59.5px;width:962.2px;top:79px"></div>
<div class="ab" style="left:901.4px;width:120.3px;top:78.7px;height:1.7px;background:#26a69a"></div>
<div class="gc" style="left:43.5px;top:63.5px"></div>
<div class="gc" style="left:524.6px;top:63.5px"></div>
<div class="gc" style="left:644.9px;top:63.5px"></div>
<div class="gc" style="left:765.2px;top:63.5px"></div>
<div class="tc" style="left:1005.7px;top:63.5px"></div>
<div class="tc" style="left:885.4px;top:63.5px"></div>
<div class="cc" style="left:883.9px;top:62.0px"></div>
<div class="lbl dl" style="left:1021.7px;transform:translateX(-50%);padding:0 6.5px;top:29px">۰۴/۰۹/۲۳</div>
<div class="lbl dl" style="left:901.4px;transform:translateX(-50%);padding:0 6.5px;top:29px">۰۴/۰۹/۲۵</div>
<div class="days" style="left:921.6px;width:80px;top:59px;line-height:20px">۱ روز</div>
<div class="ab dash" style="left:846.4px;width:21px;top:41.3px"></div>
<div class="lbl ago" style="right:390.6px;padding:0 6px;top:28px;line-height:29px">۸۷ روز قبل</div>
<div class="ab rtl nw" style="right:181.0px;top:110.5px;font-size:19.2px;line-height:28px;color:#d84315">اندوخته طرح و توسعه</div>
<div class="ab dash" style="left:38px;width:240px;top:157px"></div>
<div class="ab" style="left:209.8px;top:151px;width:0;height:0;border-top:7px solid transparent;border-bottom:7px solid transparent;border-right:14px solid #6f8fa0"></div>
<div class="ab nw" style="left:175.8px;width:80px;text-align:center;top:126px;font-size:18px;line-height:28px;color:#3a4a57;direction:ltr">۹۲%</div>
<div class="ab nw" style="left:17px;top:143px"><span class="bl" style="background:#72b46f;color:#fff;display:inline-block;direction:rtl">۲۲۷ میلیارد تومان</span></div>
<div class="ab nw" style="left:216px;width:300px;top:143px;display:flex;justify-content:center;align-items:center;direction:rtl"><span style="font-size:19px;line-height:28px;color:#666;margin-left:7px">سرمایه:</span><span class="bl" style="background:#3fa9b8;color:#fff;display:inline-block">۱۱۸ میلیارد تومان</span></div>
</div>
<div class="lbl ts" style="left:19px;top:1735px">۱۴۰۴/۰۹/۲۵ ۱۰:۴۵:۴۵</div>
<div class="rp" style="top:1740px"><div class="ab rtl nw" style="left:0;width:156px;text-align:center;top:15.5px;font-size:31px;font-weight:900;line-height:44px">غگلپا</div><div class="sep" style="top:75px"></div><div class="ab rtl nw" style="left:0;width:156px;text-align:center;top:86px;font-size:42px;font-weight:400;line-height:48px">۹۲%</div><div class="sep" style="top:139px"></div><div class="ab rtl nw" style="left:0;width:130px;text-align:center;top:146px;font-size:23.5px;line-height:30px">۹,۳۰۰<span style="font-size:16.5px">ریال</span></div></div>
<svg class="ab" style="left:0;top:1940px" width="1280" height="118" viewBox="0 1940 1280 118">
<polygon points="0,1948 249.5,1948 285,2003.5 1280,2003.5 1280,2058 0,2058" fill="#454e4b"/>
<polygon points="286,1948 679,1948 707.5,1991 312.4,1991" fill="#2dbb8c"/>
<polygon points="286,1948 549,1948 578,1991 312.4,1991" fill="#0e855c"/>
<polygon points="286,1948 420,1948 448.5,1991 312.4,1991" fill="#0b6b4b"/>
<polygon points="728.5,1964 1280,1964 1280,1974.5 736,1974.5" fill="#25a07a"/>
</svg>
<div class="ab nw" style="left:15px;top:1964px;font-family:Roboto,'Liberation Sans',sans-serif;font-size:24px;color:#e6e6e6;line-height:32px">@CodalChart</div>
<div class="ab" style="left:15px;top:2005px;width:216px;height:1px;background:#d8d8d8"></div>
<div class="ab rtl nw" style="left:15px;top:2009px;font-size:22.5px;font-weight:300;color:#e6e6e6;line-height:34px">کانال کدال چارت</div>
<div class="ab rtl nw" style="right:17px;top:2015px;font-size:17.6px;color:#e8e8e8;line-height:28px">جمعه ۲۲ اسفند ۱۴۰۴ ساعت ۲۱:۴۱:۵۹</div>

<div class="ab nw" style="left:172.1px;top:1474px;font-family:Roboto,'Liberation Sans',sans-serif;font-size:217px;line-height:217px;color:rgba(110,110,110,.22);transform-origin:0 0;transform:rotate(-53.95deg)">@CodalChart</div>
</body></html>
